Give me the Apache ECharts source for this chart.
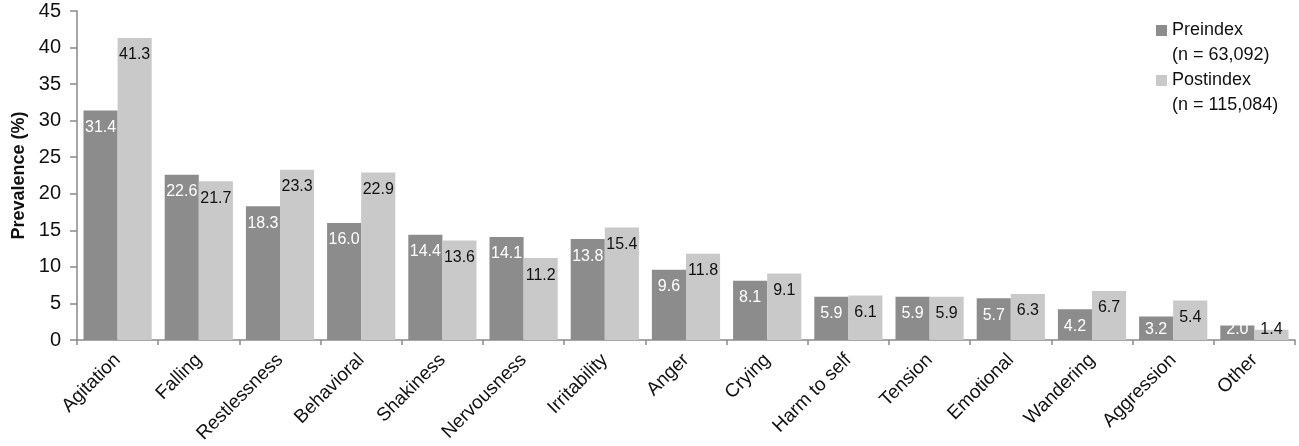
<!DOCTYPE html>
<html><head><meta charset="utf-8">
<script src="https://cdn.jsdelivr.net/npm/echarts@6/dist/echarts.min.js"></script>
<style>html,body{margin:0;padding:0;background:#fff}#c{width:1299px;height:446px}</style>
</head><body><div id="c"></div>
<script>
const categories = ['Agitation','Falling','Restlessness','Behavioral','Shakiness','Nervousness','Irritability','Anger','Crying','Harm to self','Tension','Emotional','Wandering','Aggression','Other'];
const preindex = [31.4,22.6,18.3,16.0,14.4,14.1,13.8,9.6,8.1,5.9,5.9,5.7,4.2,3.2,2.0];
const postindex = [41.3,21.7,23.3,22.9,13.6,11.2,15.4,11.8,9.1,6.1,5.9,6.3,6.7,5.4,1.4];
const seriesNames = ['Preindex','Postindex'];
const seriesCounts = ['(n = 63,092)','(n = 115,084)'];
const yTicks = [0,5,10,15,20,25,30,35,40,45];

const font = 'Liberation Sans, Arial, sans-serif';
const axisColor = '#8a8a8a';
const Y_MAX = 45, PLOT_H = 446 - 11 - 106;
// Labels sit inside the bar end; when the bar is too short they rest on the axis.
function toData(arr){
  return arr.map(v => {
    const h = v / Y_MAX * PLOT_H;
    return h < 27 ? {value:v, label:{position:'insideBottom', distance:2}} : {value:v};
  });
}
const chart = echarts.init(document.getElementById('c'));
chart.setOption({
  animation:false,
  textStyle:{fontFamily:font},
  grid:{left:77,right:4,top:11,bottom:106,containLabel:false},
  legend:{
    orient:'vertical', left:1156, top:-7, padding:0, itemWidth:11, itemHeight:11, itemGap:-25,
    icon:'rect',
    textStyle:{fontSize:18, color:'#111', lineHeight:25, fontFamily:font},
    formatter:name=>'\n'+name+'\n'+seriesCounts[seriesNames.indexOf(name)],
    data:seriesNames
  },
  xAxis:{
    type:'category', data:categories,
    axisLine:{lineStyle:{color:axisColor,width:1.5}},
    axisTick:{show:true, length:5, lineStyle:{color:axisColor,width:1.5}},
    axisLabel:{rotate:45, fontSize:19, color:'#111', margin:17, interval:0, fontFamily:font}
  },
  yAxis:{
    type:'value', min:0, max:Y_MAX, interval:5,
    name:'Prevalence (%)', nameLocation:'middle', nameGap:48,
    nameTextStyle:{fontSize:18, fontWeight:'bold', color:'#111', fontFamily:font},
    splitLine:{show:false},
    axisLine:{show:true, lineStyle:{color:axisColor,width:1.5}},
    axisTick:{show:true, length:7, inside:false, lineStyle:{color:axisColor,width:1.5}},
    axisLabel:{fontSize:20, color:'#111', margin:16, fontFamily:font,
      formatter:v=>yTicks.includes(v)?String(v):''}
  },
  series:[
    {name:seriesNames[0], type:'bar', data:toData(preindex), barGap:'0%', barCategoryGap:'16%',
     itemStyle:{color:'#8c8c8c'},
     label:{show:true, position:'insideTop', distance:9, color:'#fff', fontSize:16, fontFamily:font,
       formatter:p=>p.value.toFixed(1)}},
    {name:seriesNames[1], type:'bar', data:toData(postindex), barGap:'0%', barCategoryGap:'16%',
     itemStyle:{color:'#c9c9c9'},
     label:{show:true, position:'insideTop', distance:9, color:'#111', fontSize:16, fontFamily:font,
       formatter:p=>p.value.toFixed(1)}}
  ]
});
</script></body></html>
